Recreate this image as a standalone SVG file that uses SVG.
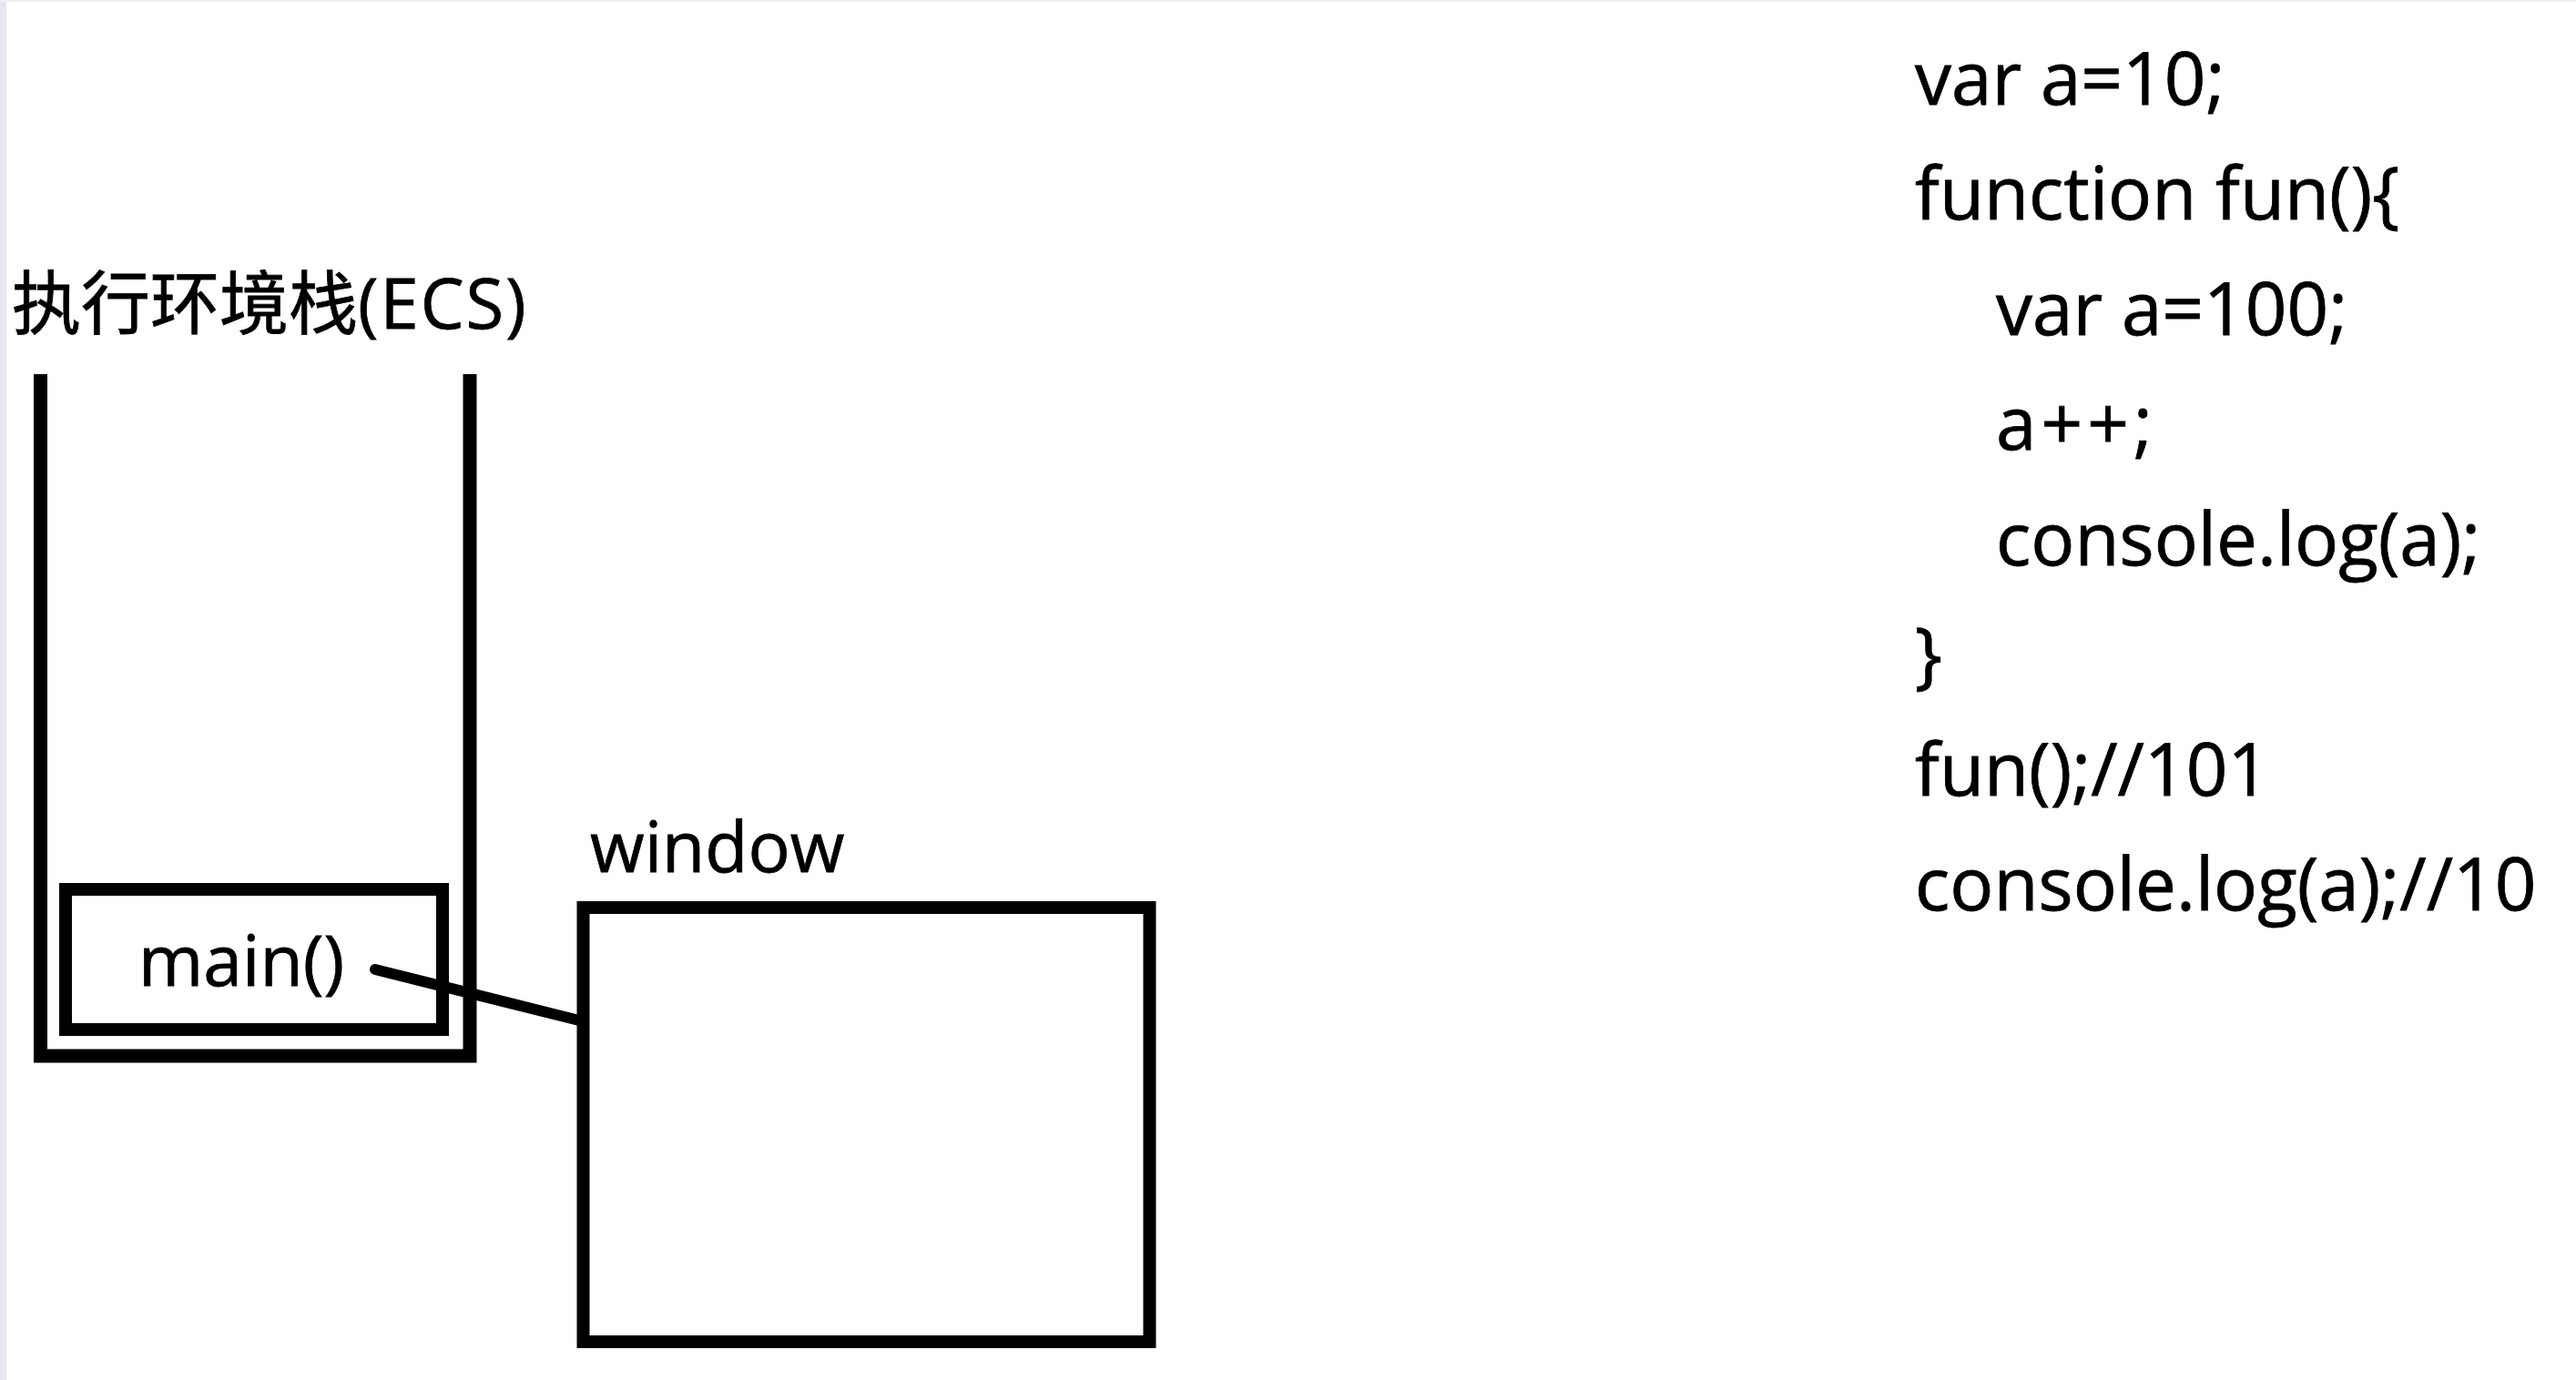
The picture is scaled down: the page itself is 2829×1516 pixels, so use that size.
<svg xmlns="http://www.w3.org/2000/svg" width="2829" height="1516" viewBox="0 0 2829 1516">
  <style>
    .t { font-family: "Open Sans", "Noto Sans CJK SC", sans-serif; fill: #000; stroke: #000; stroke-width: 0.8; }
    .code { font-size: 80px; }
    .box { fill: none; stroke: #000; stroke-width: 14; stroke-linejoin: miter; }
    .wall { fill: none; stroke: #000; stroke-width: 15; stroke-linejoin: miter; stroke-linecap: butt; }
    .conn { stroke: #000; stroke-width: 12; stroke-linecap: round; fill: none; }
  </style>
  <rect x="0" y="0" width="2829" height="1516" fill="#ffffff"/>
  <rect x="0" y="0" width="7" height="1516" fill="#e4e7f1"/>
  <rect x="0" y="0" width="2829" height="2" fill="#eef0f5"/>

  <g id="ecs-stack">
    <text class="t" x="13" y="361" font-size="76">执行环境栈<tspan letter-spacing="2">(ECS)</tspan></text>
    <polyline class="wall" points="44.5,411 44.5,1160 516,1160 516,411"/>
  </g>

  <g id="main-frame">
    <rect class="box" x="72" y="977" width="414" height="154"/>
    <text class="t" x="152" y="1083" font-size="77">main()</text>
  </g>

  <g id="window">
    <text class="t" x="648" y="958" font-size="77">window</text>
    <rect class="box" x="640.5" y="997" width="622" height="477"/>
  </g>

  <g id="connectors">
    <line class="conn" x1="412" y1="1065" x2="636" y2="1121"/>
  </g>

  <g id="code">
    <text class="t code" x="2103" y="115">var a=10;</text>
    <text class="t code" x="2103" y="241">function fun(){</text>
    <text class="t code" x="2192" y="368">var a=100;</text>
    <text class="t code" x="2192" y="494" letter-spacing="5">a++;</text>
    <text class="t code" x="2192" y="621">console.log(a);</text>
    <text class="t code" x="2103" y="747">}</text>
    <text class="t code" x="2103" y="874">fun();//101</text>
    <text class="t code" x="2103" y="1000">console.log(a);//10</text>
  </g>
</svg>
